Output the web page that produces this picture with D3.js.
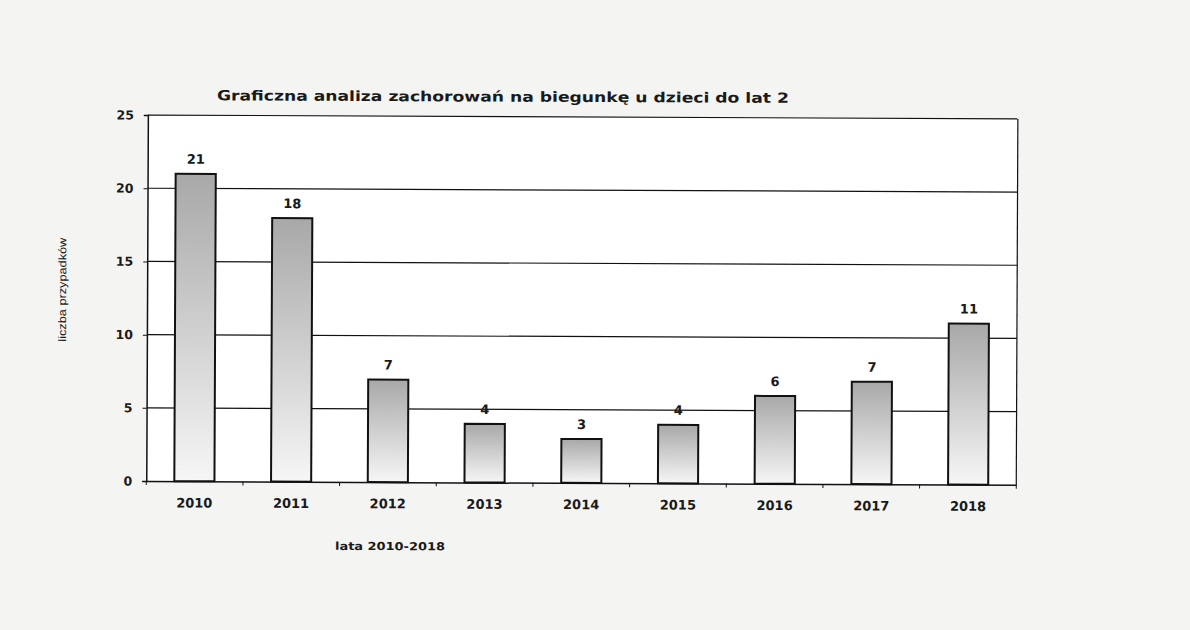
<!DOCTYPE html>
<html>
<head>
<meta charset="utf-8">
<script src="https://cdn.jsdelivr.net/npm/d3@7"></script>
<style>
  body { margin: 0; background: #f4f4f3; }
  svg { display: block; }
  text { font-family: "DejaVu Sans", Verdana, sans-serif; fill: #1a1a1a; }
</style>
</head>
<body>
<script>
// chart values
var years = ['2010', '2011', '2012', '2013', '2014', '2015', '2016', '2017', '2018'];
var cases = [21, 18, 7, 4, 3, 4, 6, 7, 11];
var yTicks = [0, 5, 10, 15, 20, 25];
var title = 'Graficzna analiza zachorowań na biegunkę u dzieci do lat 2';
var xTitle = 'lata 2010-2018';
var yTitle = 'liczba przypadków';

var W = 1190, H = 630;
var margin = { top: 117, right: 173, bottom: 147, left: 147 },
    width = W - margin.left - margin.right,
    height = H - margin.top - margin.bottom;

var root = d3.select('body').append('svg')
    .attr('width', W)
    .attr('height', H);

var defs = root.append('defs');
var grad = defs.append('linearGradient')
    .attr('id', 'barGrad')
    .attr('x1', 0).attr('y1', 0).attr('x2', 0).attr('y2', 1);
grad.append('stop').attr('offset', '0%').attr('stop-color', '#a8a8a8');
grad.append('stop').attr('offset', '100%').attr('stop-color', '#f6f6f6');

// scan is slightly tilted
var page = root.append('g').attr('transform', 'rotate(0.25,' + (W / 2) + ',' + (H / 2) + ')');

page.append('text')
    .attr('x', 216).attr('y', 102)
    .attr('textLength', 572).attr('lengthAdjust', 'spacingAndGlyphs')
    .style('font-size', '14px').style('font-weight', 'bold')
    .text(title);

var svg = page.append('g')
    .attr('transform', 'translate(' + margin.left + ',' + margin.top + ')');

var x = d3.scaleBand().domain(years).range([0, width]).paddingInner(0.585).paddingOuter(0.29);
var y = d3.scaleLinear().domain([0, 25]).range([height, 0]);

svg.append('rect')
    .attr('width', width).attr('height', height)
    .attr('fill', '#fff');

// gridlines
svg.append('g').selectAll('line')
    .data(yTicks.filter(function (d) { return d > 0; }))
    .enter().append('line')
    .attr('x1', 0).attr('x2', width)
    .attr('y1', function (d) { return y(d); })
    .attr('y2', function (d) { return y(d); })
    .attr('stroke', '#111').attr('stroke-width', 1.2);

// right border
svg.append('line')
    .attr('x1', width).attr('x2', width).attr('y1', 0).attr('y2', height)
    .attr('stroke', '#111').attr('stroke-width', 1.2);

// bars
svg.append('g').selectAll('rect')
    .data(cases)
    .enter().append('rect')
    .attr('x', function (d, i) { return x(years[i]); })
    .attr('y', function (d) { return y(d); })
    .attr('width', x.bandwidth())
    .attr('height', function (d) { return height - y(d); })
    .attr('fill', 'url(#barGrad)')
    .attr('stroke', '#111').attr('stroke-width', 2);

svg.append('g').selectAll('text')
    .data(cases)
    .enter().append('text')
    .attr('x', function (d, i) { return x(years[i]) + x.bandwidth() / 2; })
    .attr('y', function (d) { return y(d) - 10; })
    .attr('text-anchor', 'middle')
    .style('font-size', '13px').style('font-weight', 'bold')
    .text(function (d) { return d; });

// axes
var yAxis = d3.axisLeft(y).tickValues(yTicks).tickSize(4).tickPadding(10);
var gy = svg.append('g').call(yAxis);
gy.select('.domain').attr('stroke', '#111').attr('stroke-width', 1.5);
gy.selectAll('.tick line').attr('stroke', '#111');
gy.selectAll('.tick text').style('font-size', '12.5px').style('font-weight', 'bold')
    .attr('fill', '#1a1a1a').style('font-family', '"DejaVu Sans", Verdana, sans-serif');

var gx = svg.append('g').attr('transform', 'translate(0,' + height + ')')
    .call(d3.axisBottom(x).tickSize(0).tickPadding(17));
gx.select('.domain').attr('stroke', '#111').attr('stroke-width', 1.5);
gx.selectAll('.tick text').style('font-size', '13px').style('font-weight', 'bold')
    .attr('fill', '#1a1a1a').style('font-family', '"DejaVu Sans", Verdana, sans-serif');

// category separators on the x axis
gx.append('g').selectAll('line')
    .data(d3.range(years.length + 1))
    .enter().append('line')
    .attr('x1', function (i) { return i * width / years.length; })
    .attr('x2', function (i) { return i * width / years.length; })
    .attr('y1', 0).attr('y2', 4)
    .attr('stroke', '#111');

page.append('text')
    .attr('x', 336).attr('y', 551)
    .attr('textLength', 110).attr('lengthAdjust', 'spacingAndGlyphs')
    .style('font-size', '11px').style('font-weight', 'bold')
    .text(xTitle);

page.append('text')
    .attr('transform', 'translate(66,292) rotate(-90)')
    .attr('text-anchor', 'middle')
    .attr('textLength', 104).attr('lengthAdjust', 'spacingAndGlyphs')
    .style('font-size', '11px').style('font-family', '"Liberation Sans Narrow", "Liberation Sans", Arial, sans-serif')
    .text(yTitle);
</script>
</body>
</html>
